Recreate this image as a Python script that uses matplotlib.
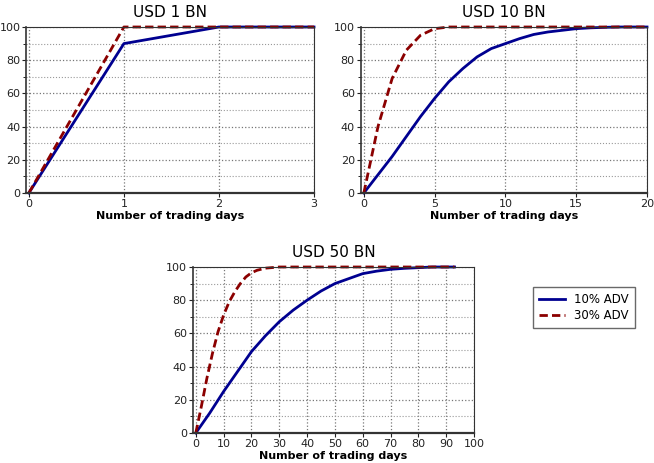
import matplotlib
matplotlib.use("Agg")
import matplotlib.pyplot as plt
from matplotlib.ticker import MultipleLocator

# USD 1 BN
days_1 = [0, 1, 2, 3]
adv10_1 = [0, 90, 100, 100]
adv30_1 = [0, 100, 100, 100]

# USD 10 BN
days_10_a = [0, 1, 2, 3, 4, 5, 6, 7, 8, 9, 10, 11, 12, 13, 14, 15, 16, 17, 18, 19, 20]
adv10_10 = [0, 11, 22, 34, 46, 57, 67, 75, 82, 87, 90, 93, 95.5, 97, 98, 99, 99.5, 99.8, 100, 100, 100]
adv30_10 = [0, 40, 69, 86, 95, 99, 100, 100, 100, 100, 100, 100, 100, 100, 100, 100, 100, 100, 100, 100, 100]

# USD 50 BN
days_50_10 = [0, 5, 10, 15, 20, 25, 30, 35, 40, 45, 50, 55, 60, 65, 70, 75, 80, 85, 93]
adv10_50 = [0, 12, 25, 37, 49, 58.5, 67, 74, 80, 85.5, 90, 93, 96, 97.5, 98.6, 99.2, 99.6, 100, 100]
days_50_30 = [0, 2, 4, 6, 8, 10, 12, 14, 16, 18, 20, 22, 25, 30, 40, 50, 60, 70, 80, 93]
adv30_50 = [0, 16, 33, 48, 61, 71, 79, 85, 90, 94, 96.5, 98, 99.3, 100, 100, 100, 100, 100, 100, 100]

BLUE = "#000090"
RED = "#8b0000"
DASH = (0, (3, 1.5))

fig = plt.figure(figsize=(6.54, 4.63), dpi=100)
W, H = 654, 463


def add_ax(x0, y0, x1, y1):
    return fig.add_axes([x0 / W, 1 - y1 / H, (x1 - x0) / W, (y1 - y0) / H])


def style(ax, title, xlim, xstep):
    ax.set_xlim(*xlim)
    ax.set_ylim(0, 100)
    ax.xaxis.set_major_locator(MultipleLocator(xstep))
    ax.yaxis.set_major_locator(MultipleLocator(20))
    ax.yaxis.set_minor_locator(MultipleLocator(10))
    ax.grid(which="major", color="#777777", linestyle=":", linewidth=0.9)
    ax.grid(which="minor", axis="y", color="#999999", linestyle=":", linewidth=0.8)
    ax.set_title(title, fontsize=11, pad=7)
    ax.set_xlabel("Number of trading days", fontsize=8, fontweight="bold", labelpad=1)
    ax.tick_params(labelsize=8, length=3, direction="out", colors="#222222", pad=1.5)
    ax.tick_params(which="minor", length=2)
    for s in ax.spines.values():
        s.set_color("#333333")
        s.set_linewidth(0.8)
    ax.spines["bottom"].set_linewidth(1.6)
    ax.spines["left"].set_linewidth(1.2)


ax1 = add_ax(26, 27, 314, 193)
ax1.plot(days_1, adv10_1, color=BLUE, lw=2, clip_on=False)
ax1.plot(days_1, adv30_1, color=RED, lw=2, ls=DASH, clip_on=False)
style(ax1, "USD 1 BN", (-0.03, 3), 1)
ax1.tick_params(axis="y", pad=1)

ax2 = add_ax(361, 27, 647, 193)
ax2.plot(days_10_a, adv10_10, color=BLUE, lw=2, clip_on=False)
ax2.plot(days_10_a, adv30_10, color=RED, lw=2, ls=DASH, clip_on=False)
style(ax2, "USD 10 BN", (-0.2, 20), 5)

ax3 = add_ax(193, 267, 474, 433)
l1, = ax3.plot(days_50_10, adv10_50, color=BLUE, lw=2, label="10% ADV", clip_on=False)
l2, = ax3.plot(days_50_30, adv30_50, color=RED, lw=2, ls=DASH, label="30% ADV", clip_on=False)
style(ax3, "USD 50 BN", (-1, 100), 10)

fig.legend(handles=[l1, l2], loc="upper left", bbox_to_anchor=(533 / W, 1 - 287 / H),
           fontsize=8.5, frameon=True, fancybox=False, edgecolor="#444444",
           handlelength=2.2, borderpad=0.5, labelspacing=0.3, handletextpad=0.8,
           borderaxespad=0)

fig.savefig("out.png", dpi=100)
plt.close(fig)
